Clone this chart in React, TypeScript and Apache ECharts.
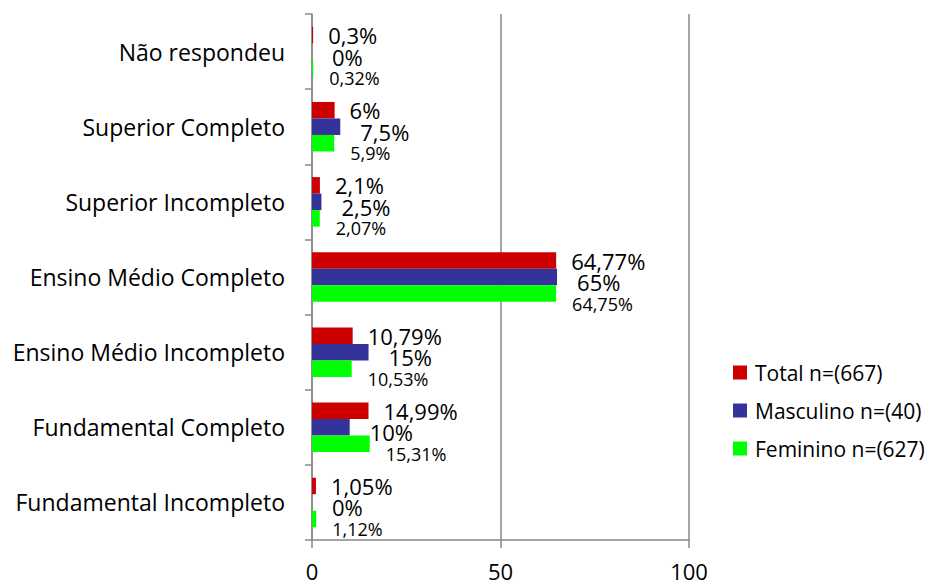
import React, { useEffect, useRef } from "react";
import * as echarts from "echarts";

const categories = [
  "Fundamental Incompleto",
  "Fundamental Completo",
  "Ensino Médio Incompleto",
  "Ensino Médio Completo",
  "Superior Incompleto",
  "Superior Completo",
  "Não respondeu",
];
const totalValues = [1.05, 14.99, 10.79, 64.77, 2.1, 6, 0.3];
const masculinoValues = [0, 10, 15, 65, 2.5, 7.5, 0];
const femininoValues = [1.12, 15.31, 10.53, 64.75, 2.07, 5.9, 0.32];
const seriesNames = ["Total n=(667)", "Masculino n=(40)", "Feminino n=(627)"];
const xTicks = { min: 0, max: 100, interval: 50 };

const FONT = "'Open Sans', sans-serif";

const fmt = (v: number) => String(v).replace(".", ",") + "%";

export default function App() {
  const ref = useRef<HTMLDivElement>(null);
  useEffect(() => {
    if (!ref.current) return;
    const chart = echarts.init(ref.current, undefined, { renderer: "svg" });
    const mk = (name: string, data: number[], color: string, fontSize: number, distance: number, dy: number) => ({
      name,
      type: "bar",
      data,
      barWidth: 16.5,
      barGap: "0%",
      itemStyle: { color },
      label: {
        show: true,
        position: "right",
        distance,
        offset: [0, dy],
        fontSize,
        fontFamily: FONT,
        color: "#000",
        formatter: (p: any) => fmt(p.value),
      },
    });
    chart.setOption({
      animation: false,
      backgroundColor: "#fff",
      grid: { left: 312, right: 255, top: 14, bottom: 45 },
      legend: {
        orient: "vertical",
        left: 733,
        top: 362,
        padding: 0,
        itemWidth: 14,
        itemHeight: 14,
        itemGap: 17,
        icon: "rect",
        textStyle: { fontSize: 21, fontFamily: FONT, color: "#000", padding: [0, 0, 0, 3] },
        data: seriesNames,
      },
      xAxis: {
        type: "value",
        min: xTicks.min,
        max: xTicks.max,
        interval: xTicks.interval,
        axisLine: { show: true, lineStyle: { color: "#888", width: 1.5 } },
        axisTick: { show: true, length: 8, lineStyle: { color: "#888", width: 1.5 } },
        splitLine: { show: true, lineStyle: { color: "#888", width: 1.5 } },
        axisLabel: { fontSize: 22, fontFamily: FONT, color: "#000", margin: 20 },
      },
      yAxis: {
        type: "category",
        data: categories,
        axisLine: { show: true, lineStyle: { color: "#888", width: 1.5 } },
        axisTick: { show: true, length: 7, lineStyle: { color: "#888", width: 1.5 } },
        axisLabel: { fontSize: 23, fontFamily: FONT, color: "#000", margin: 27 },
      },
      series: [
        mk(seriesNames[0], totalValues, "#CC0000", 22, 15, 0),
        mk(seriesNames[1], masculinoValues, "#333399", 22, 20, 5),
        mk(seriesNames[2], femininoValues, "#00FF00", 18, 16, 10),
      ],
    });
    return () => chart.dispose();
  }, []);
  return (
    <div
      ref={ref}
      style={{ position: "fixed", left: 0, top: 0, width: 944, height: 585 }}
    />
  );
}
